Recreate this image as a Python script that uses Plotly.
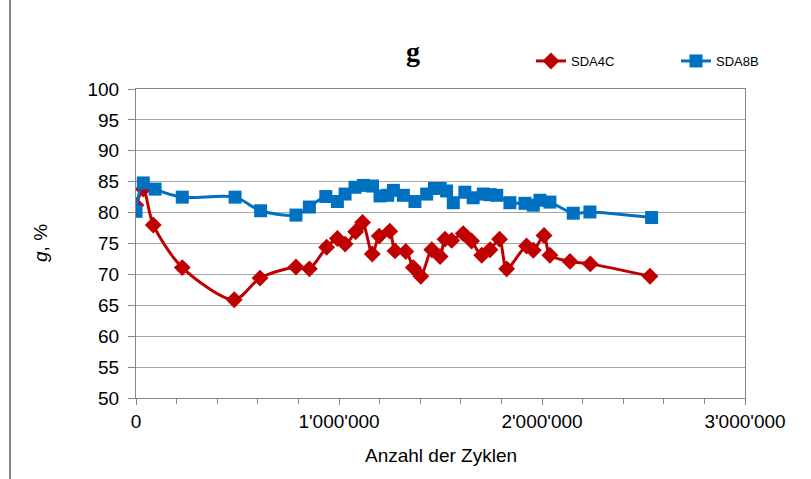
import plotly.graph_objects as go

# Number of load cycles and measured g-values for both specimens
sda4c_cycles = [0, 36000, 85000, 228000, 484000, 611000, 788000, 854000, 939000, 992000,
                1030000, 1082000, 1116000, 1164000, 1198000, 1250000, 1276000, 1329000,
                1366000, 1403000, 1457000, 1498000, 1522000, 1555000, 1612000, 1653000,
                1703000, 1744000, 1791000, 1826000, 1924000, 1957000, 2010000, 2039000,
                2138000, 2238000, 2532000]
sda4c_g = [81.2, 83.8, 78.0, 71.1, 65.9, 69.4, 71.2, 70.9, 74.4, 75.8,
           74.9, 76.9, 78.4, 73.3, 76.2, 77.0, 73.8, 73.7,
           71.1, 69.7, 74.0, 72.9, 75.7, 75.5, 76.6, 75.4,
           73.1, 74.0, 75.7, 70.9, 74.6, 73.9, 76.3, 73.1,
           72.1, 71.7, 69.7]

sda8b_cycles = [0, 36000, 94000, 228000, 488000, 614000, 788000, 854000, 935000, 992000,
                1030000, 1079000, 1120000, 1165000, 1202000, 1240000, 1268000, 1317000,
                1374000, 1432000, 1470000, 1498000, 1530000, 1563000, 1620000, 1661000,
                1711000, 1744000, 1777000, 1842000, 1916000, 1957000, 1990000, 2039000,
                2154000, 2236000, 2540000]
sda8b_g = [80.2, 84.8, 83.8, 82.5, 82.5, 80.3, 79.6, 80.9, 82.6, 81.8,
           83.0, 84.1, 84.4, 84.3, 82.7, 82.8, 83.6, 82.8,
           81.8, 83.0, 83.9, 83.9, 83.5, 81.6, 83.3, 82.4,
           83.0, 82.9, 82.8, 81.6, 81.5, 81.2, 82.0, 81.7,
           79.9, 80.1, 79.2]

x_tickvals = [0, 1000000, 2000000, 3000000]
x_ticktext = ["0", "1'000'000", "2'000'000", "3'000'000"]
y_tickvals = list(range(50, 101, 5))

RED = "#C00000"
BLUE = "#0070C0"
GRID = "#A6A6A6"
AXIS = "#868686"
FONT = "Liberation Sans"

W, H = 811, 479
L, R, T, B = 136, 66, 89, 81
PW, PH = W - L - R, H - T - B


def px(xp):
    return (xp - L) / PW


def py(yp):
    return (H - B - yp) / PH


fig = go.Figure()
fig.add_trace(go.Scatter(
    x=sda4c_cycles, y=sda4c_g, name="SDA4C", mode="lines+markers",
    line=dict(color=RED, width=3, shape="spline", smoothing=0.8),
    marker=dict(symbol="diamond", size=13, color=RED),
))
fig.add_trace(go.Scatter(
    x=sda8b_cycles, y=sda8b_g, name="SDA8B", mode="lines+markers",
    line=dict(color=BLUE, width=3, shape="spline", smoothing=0.8),
    marker=dict(symbol="square", size=13, color=BLUE),
))

fig.update_layout(
    width=W, height=H,
    margin=dict(l=L, r=R, t=T, b=B, autoexpand=False),
    paper_bgcolor="white", plot_bgcolor="white",
    font=dict(family=FONT, color="#000000"),
    showlegend=True,
    legend=dict(
        orientation="h", xref="container", yref="container",
        x=531 / W, y=1 - 46 / H, xanchor="left", yanchor="top",
        font=dict(family=FONT, size=13),
        entrywidth=100, entrywidthmode="pixels",
        bgcolor="rgba(0,0,0,0)",
    ),
    xaxis=dict(
        range=[0, 3000000], tickvals=x_tickvals, ticktext=x_ticktext,
        showgrid=False, zeroline=False,
        showline=True, linecolor=AXIS, linewidth=1, mirror=True,
        ticks="outside", ticklen=6, tickcolor=AXIS,
        tickfont=dict(size=19, family=FONT),
        minor=dict(dtick=200000, ticks="outside", ticklen=5, tickcolor=AXIS, showgrid=False),
    ),
    yaxis=dict(
        range=[50, 100], tickvals=y_tickvals,
        showgrid=True, gridcolor=GRID, gridwidth=1, zeroline=False,
        showline=True, linecolor=AXIS, linewidth=1, mirror=True,
        ticks="outside", ticklen=7, tickcolor=AXIS, ticklabelstandoff=5,
        tickfont=dict(size=19, family=FONT),
    ),
    annotations=[
        dict(text="<b>g</b>", xref="paper", yref="paper", x=px(413), y=py(52),
             showarrow=False, font=dict(family="Liberation Serif", size=28), xanchor="center", yanchor="middle"),
        dict(text="<i>g</i>, %", xref="paper", yref="paper", x=px(40), y=py(243),
             showarrow=False, textangle=-90, font=dict(family=FONT, size=19), xanchor="center", yanchor="middle"),
        dict(text="Anzahl der Zyklen", xref="paper", yref="paper", x=0.5, y=py(455),
             showarrow=False, font=dict(family=FONT, size=19), xanchor="center", yanchor="middle"),
    ],
    shapes=[
        dict(type="line", xref="paper", yref="paper", x0=px(10), x1=px(10),
             y0=py(0), y1=py(H), line=dict(color=AXIS, width=2)),
    ],
)

fig.write_html("out.html")
